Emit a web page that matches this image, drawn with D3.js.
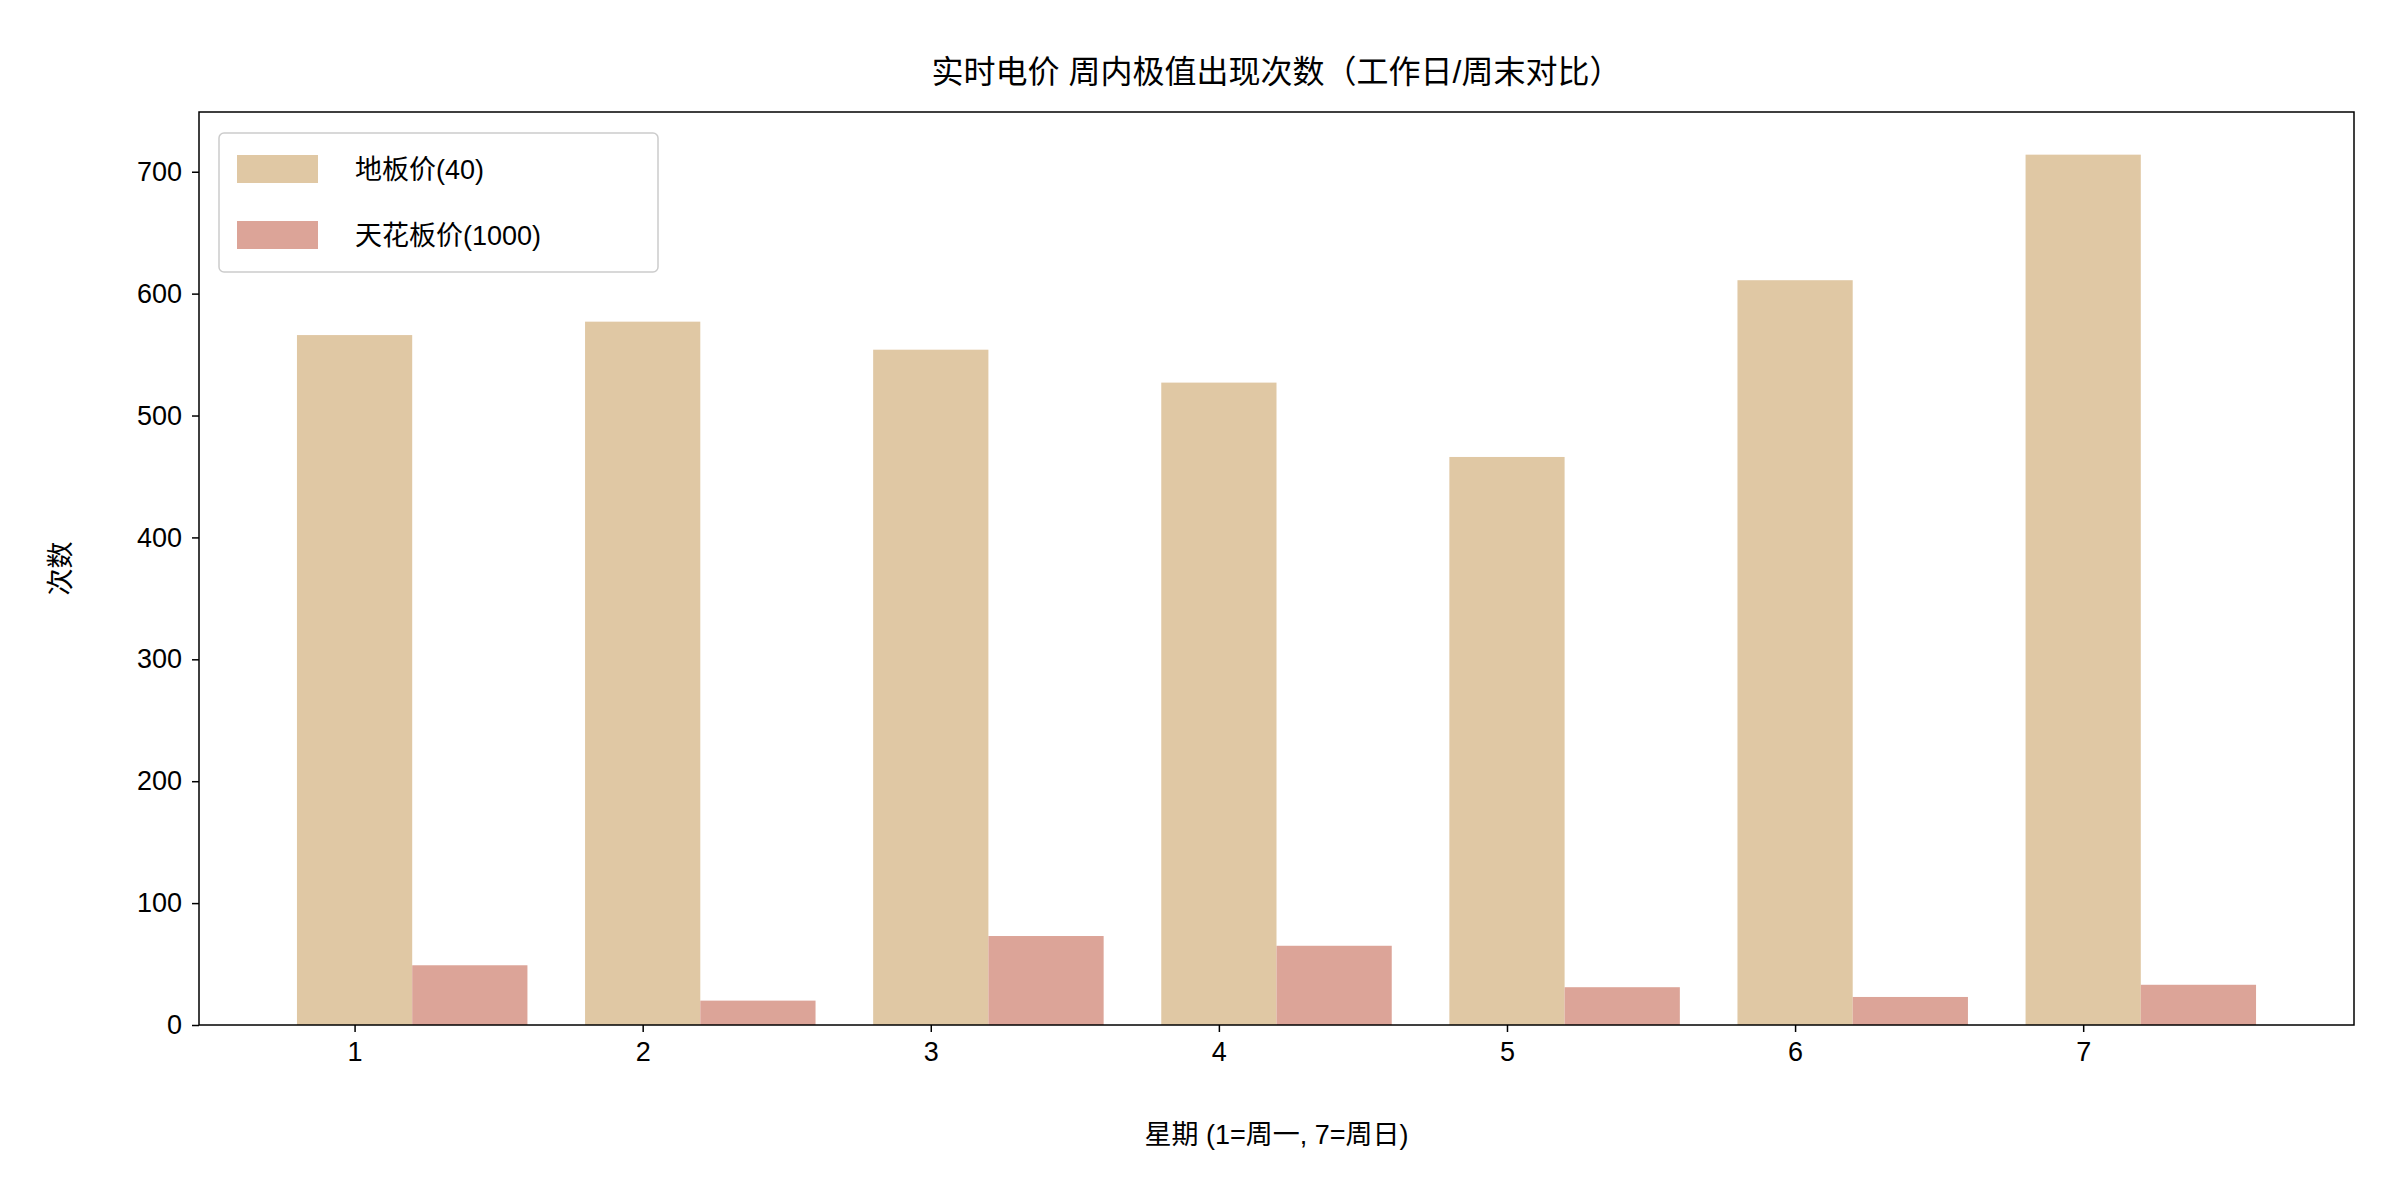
<!DOCTYPE html>
<html><head><meta charset="utf-8">
<script src="https://cdn.jsdelivr.net/npm/d3@7"></script>
<style>
body{margin:0;background:#fff;}
text{font-family:"Liberation Sans","Noto Sans CJK SC",sans-serif;fill:#000;}
</style></head>
<body><svg id="chart"></svg>
<script>
const days = [1, 2, 3, 4, 5, 6, 7];
const floorCounts = [566, 577, 554, 527, 466, 611, 714];
const capCounts = [49, 20, 73, 65, 31, 23, 33];
const yTicks = [0, 100, 200, 300, 400, 500, 600, 700];

const W = 2400, H = 1200;
const margin = { top: 112, right: 46, bottom: 175, left: 199 };
const width = W - margin.left - margin.right;
const height = H - margin.top - margin.bottom;

const svg = d3.select("#chart").attr("width", W).attr("height", H);
const g = svg.append("g").attr("transform", `translate(${margin.left},${margin.top})`);

const x = d3.scaleLinear().domain([0.46, 7.94]).range([0, width]);
const y = d3.scaleLinear().domain([0, 749]).range([height, 0]);
const bw = x(1.4) - x(1);

// bars
g.selectAll(".floor").data(days).enter().append("rect")
  .attr("x", (d) => x(d - 0.2)).attr("width", bw)
  .attr("y", (d, i) => y(floorCounts[i])).attr("height", (d, i) => y(0) - y(floorCounts[i]))
  .attr("fill", "#e0c8a4");
g.selectAll(".cap").data(days).enter().append("rect")
  .attr("x", (d) => x(d + 0.2)).attr("width", bw)
  .attr("y", (d, i) => y(capCounts[i])).attr("height", (d, i) => y(0) - y(capCounts[i]))
  .attr("fill", "#dca498");

// axes
const xa = g.append("g").attr("transform", `translate(0,${height})`)
  .call(d3.axisBottom(x).tickValues(days).tickFormat(d3.format("d")).tickSize(7).tickPadding(10));
const ya = g.append("g").call(d3.axisLeft(y).tickValues(yTicks).tickSize(7).tickPadding(10));
[xa, ya].forEach((a) => {
  a.select(".domain").remove();
  a.selectAll("text").style("font-size", "27px");
  a.selectAll("line").attr("stroke-width", 1.5);
});
g.append("rect").attr("width", width).attr("height", height)
  .attr("fill", "none").attr("stroke", "#000").attr("stroke-width", 1.5);

// labels
svg.append("text").attr("x", margin.left + width / 2).attr("y", 83)
  .attr("text-anchor", "middle").style("font-size", "32px")
  .text("实时电价 周内极值出现次数（工作日/周末对比）");
svg.append("text").attr("x", margin.left + width / 2).attr("y", 1144)
  .attr("text-anchor", "middle").style("font-size", "27px")
  .text("星期 (1=周一, 7=周日)");
svg.append("text").attr("transform", `translate(70,${margin.top + height / 2}) rotate(-90)`)
  .attr("text-anchor", "middle").style("font-size", "27px").text("次数");

// legend
const leg = g.append("g").attr("transform", "translate(20,21)");
leg.append("rect").attr("width", 439).attr("height", 139).attr("rx", 5)
  .attr("fill", "#fff").attr("fill-opacity", 0.8).attr("stroke", "#ccc").attr("stroke-width", 1.5);
const items = [["地板价(40)", "#e0c8a4"], ["天花板价(1000)", "#dca498"]];
items.forEach(([label, color], i) => {
  leg.append("rect").attr("x", 18).attr("y", 22 + i * 66).attr("width", 81).attr("height", 28).attr("fill", color);
  leg.append("text").attr("x", 136).attr("y", 46 + i * 66).style("font-size", "27px").text(label);
});
</script></body></html>
